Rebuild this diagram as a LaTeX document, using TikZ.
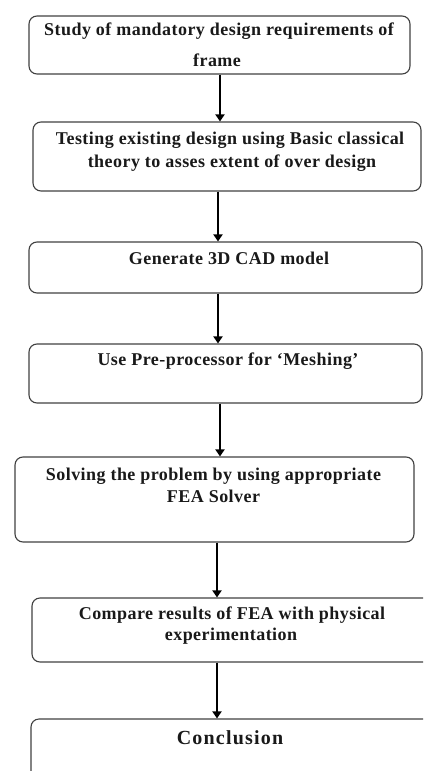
\documentclass[tikz,border=0pt]{standalone}
\usepackage{fontspec}
\setmainfont{Liberation Serif}
\usetikzlibrary{arrows.meta}
\tikzset{
  box/.style={draw=black!75, line width=1.1pt, rounded corners=8pt, inner sep=0pt},
  txt/.style={font=\fontsize{18}{21}\selectfont\bfseries\addfontfeature{LetterSpace=2.5}, text=black!90, inner sep=0pt, text height=12pt, text depth=4pt},
  bigtxt/.style={txt, font=\fontsize{20}{24}\selectfont\bfseries\addfontfeature{LetterSpace=6}},
  arr/.style={line width=2.6pt, draw=black, -{Triangle[width=9pt,length=7pt]}}
}
\begin{document}
\begin{tikzpicture}[x=1pt,y=-1pt]
\useasboundingbox (0,0) rectangle (423,771);
\clip (0,0) rectangle (423,771);
% boxes
\node[box, minimum width=381pt, minimum height=58pt] (b1) at (219.5,45) {};
\node[box, minimum width=388pt, minimum height=69pt] (b2) at (227,156.5) {};
\node[box, minimum width=393pt, minimum height=51pt] (b3) at (225.5,267.5) {};
\node[box, minimum width=393pt, minimum height=59pt] (b4) at (225.5,373.5) {};
\node[box, minimum width=399pt, minimum height=85pt] (b5) at (214.5,499.5) {};
\node[box, minimum width=400pt, minimum height=64pt] (b6) at (232,630) {};
\node[box, minimum width=401pt, minimum height=81pt] (b7) at (231.5,759.5) {};
% texts
\node[txt] (t1a) at (219,31.7) {Study of mandatory design requirements of};
\node[txt] (t1b) at (217,62.3) {frame};
\node[txt] (t2a) at (230,140) {Testing existing design using Basic classical};
\node[txt] (t2b) at (232,163) {theory to asses extent of over design};
\node[txt] (t3) at (229,260) {Generate 3D CAD model};
\node[txt] (t4) at (228,361.7) {Use Pre-processor for `Meshing'};
\node[txt] (t5a) at (213.5,476.7) {Solving the problem by using appropriate};
\node[txt] (t5b) at (213.5,498) {FEA Solver};
\node[txt] (t6a) at (232,615.7) {Compare results of FEA with physical};
\node[txt] (t6b) at (231,636.7) {experimentation};
\node[bigtxt] (t7) at (230,740.7) {Conclusion};
% arrow columns
\coordinate (c1) at (220,0);
\coordinate (c2) at (218,0);
\coordinate (c3) at (218,0);
\coordinate (c4) at (220,0);
\coordinate (c5) at (217,0);
\coordinate (c6) at (217,0);
\draw[arr] (b1.south -| c1) -- (b2.north -| c1);
\draw[arr] (b2.south -| c2) -- (b3.north -| c2);
\draw[arr] (b3.south -| c3) -- (b4.north -| c3);
\draw[arr] (b4.south -| c4) -- (b5.north -| c4);
\draw[arr] (b5.south -| c5) -- (b6.north -| c5);
\draw[arr] (b6.south -| c6) -- (b7.north -| c6);
\end{tikzpicture}
\end{document}
